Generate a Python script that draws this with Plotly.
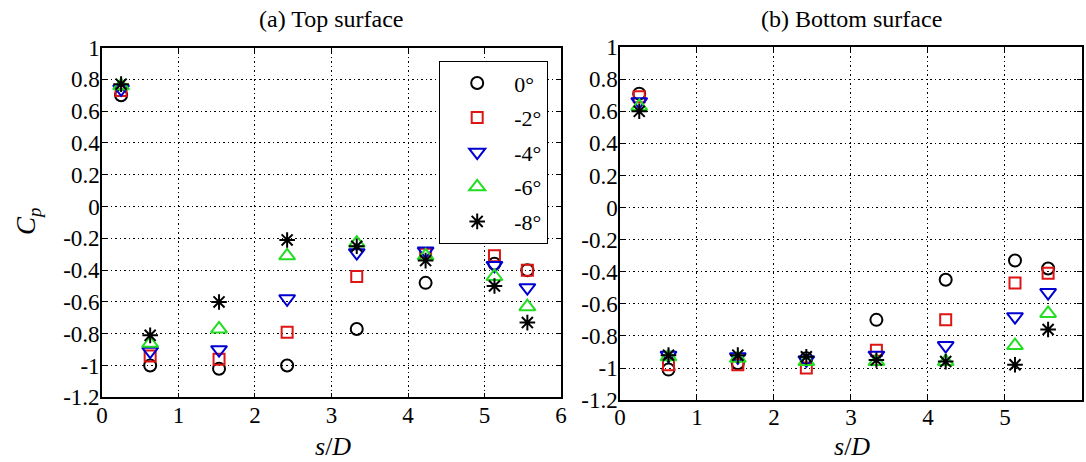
import plotly.graph_objects as go

# ---- data ----
s_D = [0.25, 0.63, 1.53, 2.42, 3.33, 4.23, 5.13, 5.56]
angles = ["0°", "-2°", "-4°", "-6°", "-8°"]

cp_top_0 = [0.70, -1.00, -1.02, -1.00, -0.77, -0.48, -0.36, -0.40]
cp_top_m2 = [0.73, -0.94, -0.96, -0.79, -0.44, -0.30, -0.31, -0.40]
cp_top_m4 = [0.74, -0.91, -0.90, -0.58, -0.29, -0.28, -0.37, -0.51]
cp_top_m6 = [0.76, -0.86, -0.77, -0.31, -0.23, -0.31, -0.44, -0.63]
cp_top_m8 = [0.77, -0.81, -0.60, -0.21, -0.25, -0.34, -0.50, -0.73]

cp_bot_0 = [0.71, -1.01, -0.97, -0.94, -0.70, -0.45, -0.33, -0.38]
cp_bot_m2 = [0.69, -0.98, -0.98, -1.00, -0.89, -0.70, -0.47, -0.41]
cp_bot_m4 = [0.66, -0.92, -0.93, -0.95, -0.92, -0.86, -0.68, -0.53]
cp_bot_m6 = [0.63, -0.93, -0.94, -0.96, -0.96, -0.96, -0.86, -0.66]
cp_bot_m8 = [0.60, -0.92, -0.92, -0.93, -0.95, -0.96, -0.98, -0.76]

x_ticks = [0, 1, 2, 3, 4, 5, 6]
x_ticktext = ["0", "1", "2", "3", "4", "5", "6"]
y_ticks = [1, 0.8, 0.6, 0.4, 0.2, 0, -0.2, -0.4, -0.6, -0.8, -1, -1.2]
y_ticktext = ["1", "0.8", "0.6", "0.4", "0.2", "0", "-0.2", "-0.4", "-0.6", "-0.8", "-1", "-1.2"]

top_series = [cp_top_0, cp_top_m2, cp_top_m4, cp_top_m6, cp_top_m8]
bot_series = [cp_bot_0, cp_bot_m2, cp_bot_m4, cp_bot_m6, cp_bot_m8]

styles = [
    dict(symbol="circle-open", color="#000000", size=12),
    dict(symbol="square-open", color="#dd1515", size=11),
    dict(symbol="triangle-down-open", color="#0000d0", size=14),
    dict(symbol="triangle-up-open", color="#22dd22", size=14),
    dict(symbol="asterisk-open", color="#000000", size=13),
]

FONT = "Liberation Serif, Times New Roman, serif"
fig = go.Figure()

for i, (name, ys, st) in enumerate(zip(angles, top_series, styles)):
    fig.add_trace(go.Scatter(
        x=s_D, y=ys, mode="markers", name=name,
        legendgroup=str(i), xaxis="x", yaxis="y",
        marker=dict(symbol=st["symbol"], size=st["size"], color=st["color"],
                    line=dict(width=2, color=st["color"])),
    ))
for i, (name, ys, st) in enumerate(zip(angles, bot_series, styles)):
    fig.add_trace(go.Scatter(
        x=s_D, y=ys, mode="markers", name=name, showlegend=False,
        legendgroup=str(i), xaxis="x2", yaxis="y2",
        marker=dict(symbol=st["symbol"], size=st["size"], color=st["color"],
                    line=dict(width=2, color=st["color"])),
    ))

axis_common = dict(
    showline=True, linecolor="black", linewidth=1.5, mirror="ticks",
    ticks="inside", ticklen=5, tickcolor="black", tickwidth=1,
    showgrid=True, gridcolor="black", griddash="1.5px,3px", gridwidth=1,
    zeroline=False, automargin=False,
    tickfont=dict(family=FONT, size=23, color="black"),
)

fig.update_layout(
    template="none",
    width=1086, height=462,
    font=dict(family=FONT, color="black"),
    margin=dict(l=0, r=0, t=0, b=0, pad=0),
    paper_bgcolor="white", plot_bgcolor="white",
    showlegend=True,
    xaxis=dict(domain=[0.0939, 0.5166], range=[0, 6], tickvals=x_ticks,
               ticktext=x_ticktext, anchor="y", ticklabelstandoff=-4, **axis_common),
    yaxis=dict(domain=[0.140, 0.897], range=[-1.2, 1], tickvals=y_ticks,
               ticktext=y_ticktext, anchor="x", ticklabelstandoff=-4, **axis_common),
    xaxis2=dict(domain=[0.5709, 0.9963], range=[0, 6], tickvals=x_ticks,
                ticktext=x_ticktext, anchor="y2", ticklabelstandoff=-4, **axis_common),
    yaxis2=dict(domain=[0.134, 0.898], range=[-1.2, 1], tickvals=y_ticks,
                ticktext=y_ticktext, anchor="x2", ticklabelstandoff=-4, **axis_common),
    legend=dict(x=439 / 1086, y=1 - 61 / 462, xanchor="left", yanchor="top",
                bgcolor="white", bordercolor="black", borderwidth=1.2,
                font=dict(family=FONT, size=22, color="black"),
                tracegroupgap=3, itemwidth=64),
    annotations=[
        dict(text="(a) Top surface", x=331 / 1086, y=1 - 19 / 462, xref="paper", yref="paper",
             xanchor="center", yanchor="middle",
             showarrow=False, font=dict(family=FONT, size=24, color="black")),
        dict(text="(b) Bottom surface", x=851 / 1086, y=1 - 19 / 462, xref="paper", yref="paper",
             xanchor="center", yanchor="middle",
             showarrow=False, font=dict(family=FONT, size=24, color="black")),
        dict(text="<i>s</i>/<i>D</i>", x=333 / 1086, y=1 - 446 / 462, xref="paper", yref="paper",
             xanchor="center", yanchor="middle",
             showarrow=False, font=dict(family=FONT, size=26, color="black")),
        dict(text="<i>s</i>/<i>D</i>", x=852 / 1086, y=1 - 446 / 462, xref="paper", yref="paper",
             xanchor="center", yanchor="middle",
             showarrow=False, font=dict(family=FONT, size=26, color="black")),
        dict(text="<i>C</i><sub><i>p</i></sub>", x=28 / 1086, y=1 - 222 / 462,
             xref="paper", yref="paper", showarrow=False, textangle=-90,
             xanchor="center", yanchor="middle",
             font=dict(family=FONT, size=27, color="black")),
    ],
)

fig.write_html(
    "out.html",
    config={"displayModeBar": False},
    post_script="document.body.style.margin='0';document.body.style.overflow='hidden';",
)
